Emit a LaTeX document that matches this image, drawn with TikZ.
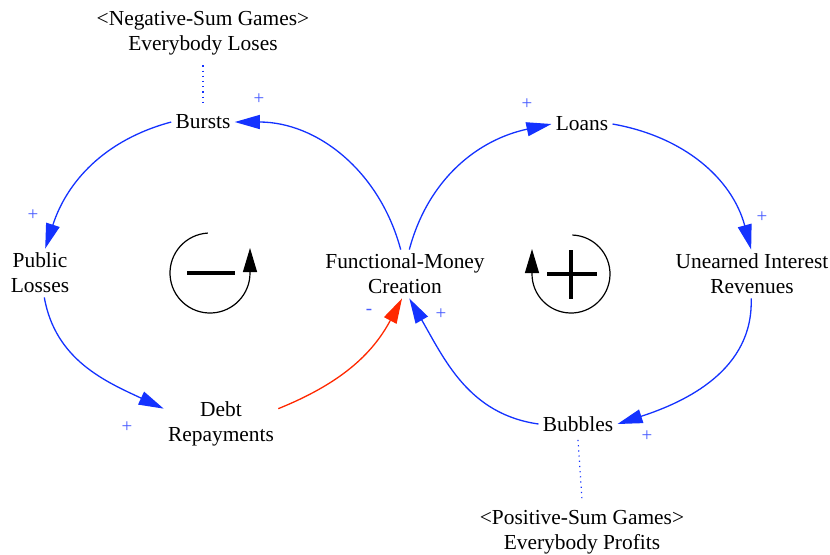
\documentclass[tikz,border=0pt]{standalone}
\usepackage{fontspec}
\setmainfont{Liberation Serif}
\usetikzlibrary{arrows.meta}
\definecolor{linkblue}{RGB}{20,50,255}
\definecolor{linkred}{RGB}{255,40,0}
\definecolor{polblue}{RGB}{70,90,255}
\tikzset{
  var/.style={align=center, font=\fontsize{10.7}{12.5}\selectfont, inner sep=2pt},
  link/.style={draw=linkblue, line width=0.65pt, -{Triangle[length=12.5pt,width=7pt]}},
  neglink/.style={link, draw=linkred},
  pol/.style={text=polblue, font=\fontsize{9.5}{10}\selectfont, inner sep=0pt},
  shadowlink/.style={draw=linkblue, line width=0.6pt, dotted},
  loopsym/.style={line width=0.6pt, -{Triangle[length=12pt,width=7pt]}},
  loopmark/.style={line width=1.7pt},
}

\begin{document}
\begin{tikzpicture}[x=0.5pt, y=0.5pt]
  \useasboundingbox (0,-554) rectangle (830,0);

  % variables
  \node[var] (neg) at (203,-33) {<Negative-Sum Games>\\Everybody Loses};
  \node[var] (burst) at (203,-122) {Bursts};
  \node[var] (pl) at (40,-273) {Public\\Losses};
  \node[var] (debt) at (221,-424) {Debt\\Repayments};
  \node[var] (fmc) at (405,-274) {Functional-Money\\Creation};
  \node[var] (loans) at (582,-124) {Loans};
  \node[var] (ui) at (752,-274) {Unearned Interest\\Revenues};
  \node[var] (bub) at (578,-424) {Bubbles};
  \node[var] (pos) at (582,-532) {<Positive-Sum Games>\\Everybody Profits};

  % shadow links
  \draw[shadowlink] ([yshift=-3pt]neg.south) -- ([yshift=2pt]burst.north);
  \draw[shadowlink] ([yshift=-2pt]bub.south) -- ([yshift=3pt]pos.north);

  % balancing loop
  \draw[link] (fmc.100) to[out=105, in=0] (burst.east);
  \draw[link] (burst.west) to[out=195, in=72] (pl.78);
  \draw[link] (pl.-80) to[out=-80, in=155] (debt.165);
  \draw[neglink] (debt.15) to[out=22, in=-118] (fmc.-97);

  % reinforcing loop
  \draw[link] (fmc.80) to[out=75, in=192] (loans.west);
  \draw[link] (loans.east) to[out=-10, in=105] (ui.92);
  \draw[link] (ui.-92) to[out=-88, in=18] (bub.east);
  \draw[link] (bub.west) to[out=172, in=-60] (fmc.-80);

  % polarities
  \node[pol] (p1) at (259,-99) {+};
  \node[pol] (p2) at (33,-215) {+};
  \node[pol] (p3) at (127,-427) {+};
  \node[pol] (p4) at (369,-312) {-};
  \node[pol] (p5) at (527,-104) {+};
  \node[pol] (p6) at (762,-217) {+};
  \node[pol] (p7) at (647,-436) {+};
  \node[pol] (p8) at (441,-314) {+};

  % loop markers
  \coordinate (bal) at (210,-273);
  \draw[loopsym] (bal) ++(93:40) arc (93:360:40) -- ++(0,25);
  \draw[loopmark] (bal) ++(-23,0) -- ++(48,0);

  \coordinate (rein) at (571,-274);
  \draw[loopsym] (rein) ++(88:39) arc (88:-180:39) -- ++(0,25);
  \draw[loopmark] (rein) ++(-24,0) -- ++(50,0);
  \draw[loopmark] (rein) ++(0,24) -- ++(0,-49);
\end{tikzpicture}
\end{document}
